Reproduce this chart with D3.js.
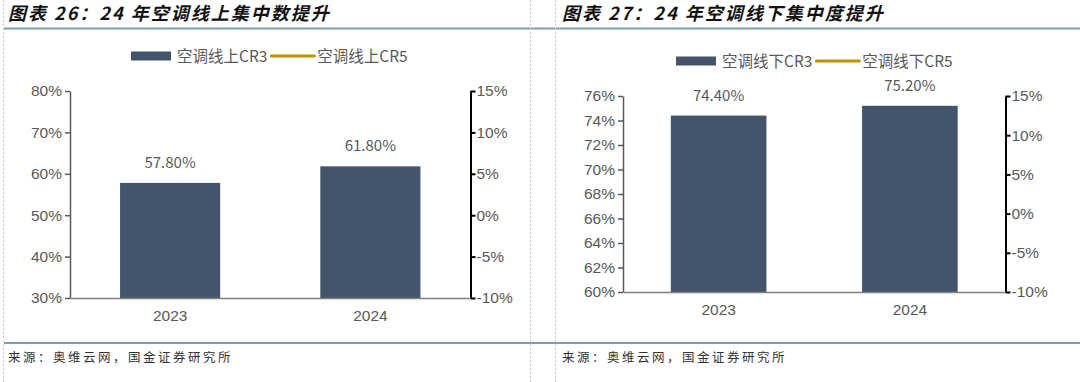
<!DOCTYPE html>
<html>
<head>
<meta charset="utf-8">
<script src="https://cdn.jsdelivr.net/npm/d3@7"></script>
<style>
  body { margin: 0; background: #fff; }
  svg { display: block; font-family: "Noto Sans CJK SC", "Noto Sans", sans-serif; }
</style>
</head>
<body>
<svg id="chart" width="1080" height="382"></svg>
<script>
// data
var years = ["2023", "2024"];
var onlineCR3 = [57.8, 61.8];
var offlineCR3 = [74.4, 75.2];
var onlineCR5 = [];   // legend only, no line visible
var offlineCR5 = [];

var leftTicksA = [30, 40, 50, 60, 70, 80];
var leftTicksB = [60, 62, 64, 66, 68, 70, 72, 74, 76];
var rightTicks = [-10, -5, 0, 5, 10, 15];

var barColor = "#44546a";
var lineColor = "#bf9000";
var textColor = "#595959";

var svg = d3.select("#chart");

// frame: title rules, dashed panel borders
svg.append("line").attr("x1", 4).attr("x2", 1080).attr("y1", 28.5).attr("y2", 28.5)
  .attr("stroke", "#7f9db0").attr("stroke-width", 2);
svg.append("line").attr("x1", 4).attr("x2", 1080).attr("y1", 343).attr("y2", 343)
  .attr("stroke", "#7f9db0").attr("stroke-width", 2);
[3.5, 530.5, 555.5].forEach(function (x) {
  svg.append("line").attr("x1", x).attr("x2", x).attr("y1", 0).attr("y2", 382)
    .attr("stroke", "#c8c8c8").attr("stroke-dasharray", "2,2");
});

function drawPanel(cfg) {
  var g = svg.append("g");

  g.append("text").attr("x", cfg.titleX).attr("y", 20)
    .attr("font-size", 18).attr("font-weight", "bold").attr("font-style", "italic")
    .attr("letter-spacing", 2).attr("fill", "#111").text(cfg.title);

  g.append("text").attr("x", cfg.titleX).attr("y", 362)
    .attr("font-size", 12.5).attr("letter-spacing", 2.5).attr("fill", "#333")
    .text("来源：奥维云网，国金证券研究所");

  var x = d3.scaleBand().domain(years).range([cfg.x0, cfg.x1]).paddingInner(0.5).paddingOuter(0.25);
  var y = d3.scaleLinear().domain(cfg.yDomain).range([cfg.yBottom, cfg.yTop]);
  var y2 = d3.scaleLinear().domain([-10, 15]).range([cfg.yBottom, cfg.yTop]);

  // bars
  g.selectAll(".bar").data(cfg.values).enter().append("rect")
    .attr("x", function (d, i) { return x(years[i]); })
    .attr("y", function (d) { return y(d); })
    .attr("width", x.bandwidth())
    .attr("height", function (d) { return cfg.yBottom - y(d); })
    .attr("fill", barColor);

  g.selectAll(".lbl").data(cfg.values).enter().append("text")
    .attr("x", function (d, i) { return x(years[i]) + x.bandwidth() / 2; })
    .attr("y", function (d) { return y(d) - 15; })
    .attr("text-anchor", "middle").attr("font-size", 15).attr("fill", textColor)
    .text(function (d) { return d.toFixed(2) + "%"; });

  // CR5 line (no data shown)
  if (cfg.line.length) {
    g.append("path").datum(cfg.line).attr("fill", "none").attr("stroke", lineColor)
      .attr("stroke-width", 2.5)
      .attr("d", d3.line().x(function (d, i) { return x(years[i]) + x.bandwidth() / 2; }).y(function (d) { return y2(d); }));
  }

  // axes
  var la = g.append("g").attr("transform", "translate(" + cfg.x0 + ",0)")
    .call(d3.axisLeft(y).tickValues(cfg.ticks).tickSize(5).tickSizeOuter(0).tickFormat(function (d) { return d + "%"; }));
  la.select(".domain").attr("stroke", textColor).attr("stroke-width", 1.5);
  la.selectAll(".tick line").attr("stroke", textColor).attr("stroke-width", 1.5);
  la.selectAll("text").attr("font-size", 15.5).attr("fill", textColor).attr("font-family", "inherit");

  var ra = g.append("g").attr("transform", "translate(" + cfg.x1 + ",0)")
    .call(d3.axisRight(y2).tickValues(rightTicks).tickSize(5).tickSizeOuter(0).tickFormat(function (d) { return d + "%"; }));
  ra.select(".domain").attr("stroke", "#000").attr("stroke-width", 2);
  ra.selectAll(".tick line").attr("stroke", "#000").attr("stroke-width", 2);
  ra.selectAll("text").attr("font-size", 15.5).attr("fill", textColor).attr("font-family", "inherit").attr("x", 6);

  var xa = g.append("g").attr("transform", "translate(0," + cfg.yBottom + ")")
    .call(d3.axisBottom(x).tickSize(0).tickPadding(12));
  xa.select(".domain").attr("stroke", "#7f7f7f").attr("stroke-width", 1.5);
  xa.selectAll("text").attr("font-size", 15.5).attr("fill", textColor).attr("font-family", "inherit");

  // legend
  var lg = g.append("g").attr("transform", "translate(" + cfg.legendX + "," + cfg.legendY + ")");
  lg.append("rect").attr("x", 0).attr("y", -4.5).attr("width", 40).attr("height", 9).attr("fill", barColor);
  var t1 = lg.append("text").attr("x", 46).attr("y", 5.5).attr("font-size", 15.5).attr("fill", textColor).text(cfg.names[0]);
  var w1 = t1.node().getComputedTextLength();
  lg.append("line").attr("x1", 50 + w1).attr("x2", 93 + w1).attr("y1", 0).attr("y2", 0)
    .attr("stroke", lineColor).attr("stroke-width", 3).attr("stroke-linecap", "round");
  lg.append("text").attr("x", 96 + w1).attr("y", 5.5).attr("font-size", 15.5).attr("fill", textColor).text(cfg.names[1]);
}

drawPanel({
  title: "图表 26：24 年空调线上集中数提升", titleX: 8,
  x0: 70, x1: 470.5, yTop: 91, yBottom: 298,
  yDomain: [30, 80], ticks: leftTicksA, values: onlineCR3, line: onlineCR5,
  names: ["空调线上CR3", "空调线上CR5"], legendX: 131, legendY: 56
});

drawPanel({
  title: "图表 27：24 年空调线下集中度提升", titleX: 562,
  x0: 623, x1: 1005.5, yTop: 96, yBottom: 292,
  yDomain: [60, 76], ticks: leftTicksB, values: offlineCR3, line: offlineCR5,
  names: ["空调线下CR3", "空调线下CR5"], legendX: 676, legendY: 61
});
</script>
</body>
</html>
